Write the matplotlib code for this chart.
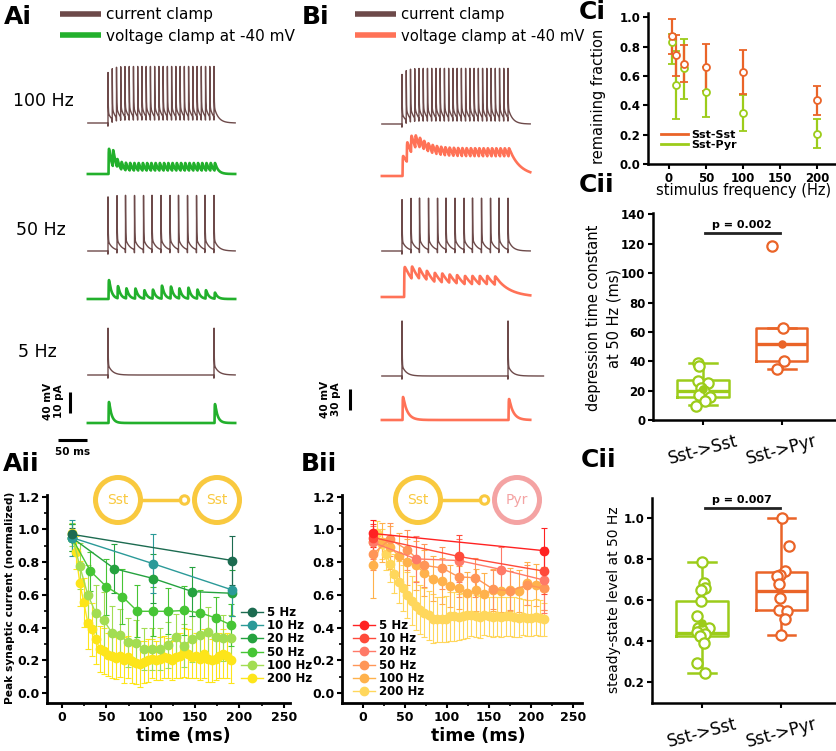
import numpy as np
import matplotlib
matplotlib.use("Agg")
import matplotlib.pyplot as plt
from matplotlib.lines import Line2D
from matplotlib.patches import Circle

plt.rcParams['font.family'] = ['DejaVu Sans']
plt.rcParams['font.weight'] = 'bold'

W, H = 837, 751

# ---------------- Ai / Bi traces ----------------
# spike / stimulus times in ms from train onset
spk_100 = [0, 8, 16, 24, 32, 40, 48, 56, 64, 72, 80, 88, 96, 104, 112, 120, 128,
           136, 144, 152, 160, 168, 176, 184, 192, 200]
spk_50 = [0, 17, 33, 50, 67, 83, 100, 117, 133, 150, 167, 183, 200]
spk_5 = [0, 200]
orange_50_times = [4, 18, 32, 46, 61, 75, 89, 103, 118, 132, 146, 160, 175]

# spike heights (mV)
spike_mv_A = {"100": 88, "50": 96, "5": 80}
spike_mv_B = {"100": 86, "50": 90, "5": 98}

# synaptic current amplitudes per event (pA)
ipsc_A_100 = [12, 8, 4, 3.8, 3.8, 3.8, 3.8, 3.8, 3.8, 3.8, 3.8, 3.8, 3.8, 3.8, 3.8,
              3.8, 3.8, 3.8, 3.8, 3.8, 3.8, 3.8, 3.8, 3.8, 3.8, 3.8]
ipsc_A_50 = [9, 5.8, 4.8, 4.8, 4, 4.3, 6.2, 5.7, 4.8, 5.2, 4.3, 4, 2.9]
ipsc_A_5 = [10, 9]
ipsc_B_100 = [30, 30, 26, 20, 16, 14, 13.5, 13.5, 13.5, 13.5, 13.5, 13.5, 13.5,
              13.5, 13.5, 13.5, 13.5, 13.5, 13.5, 13.5, 13.5, 13.5, 13.5, 13.5, 13.5, 13.5]
ipsc_B_50 = [45, 19, 16, 14, 14, 14, 13, 13, 13, 13, 13, 13, 13]
ipsc_B_5 = [34.5, 31.5]

# ---------------- Aii: Sst -> Sst ----------------
t5a = [11, 192]
v5a = [0.97, 0.81]
e5a = [0.04, 0.15]
t10a = [11, 103, 192]
v10a = [0.95, 0.79, 0.63]
e10a = [0.11, 0.18, 0.16]
t20a = [11, 59, 103, 147, 192]
v20a = [0.95, 0.76, 0.70, 0.62, 0.61]
e20a = [0.08, 0.15, 0.15, 0.15, 0.14]
t50a = [11, 32, 50, 68, 85, 103, 120, 138, 156, 173, 191]
v50a = [0.95, 0.745, 0.65, 0.59, 0.50, 0.50, 0.50, 0.505, 0.49, 0.46, 0.415]
e50a = [0.08, 0.12, 0.17, 0.17, 0.16, 0.15, 0.14, 0.15, 0.14, 0.13, 0.13]
t100a = [11, 20, 29, 38, 47, 56, 65, 74, 83, 92, 101, 110, 119, 128, 137, 146, 155,
         164, 173, 182, 191]
v100a = [0.97, 0.775, 0.60, 0.49, 0.445, 0.37, 0.355, 0.31, 0.305, 0.27, 0.27, 0.27,
         0.295, 0.345, 0.29, 0.33, 0.355, 0.375, 0.345, 0.335, 0.335]
e100a = [0.07, 0.14, 0.18, 0.17, 0.17, 0.16, 0.16, 0.15, 0.14, 0.13, 0.13, 0.13, 0.14,
         0.14, 0.13, 0.14, 0.15, 0.15, 0.14, 0.14, 0.14]
t200a = [11, 15.5, 20, 24.5, 29, 33.5, 38, 42.5, 47, 51.5, 56, 60.5, 65, 69.5, 74, 78.5,
         83, 87.5, 92, 96.5, 101, 105.5, 110, 114.5, 119, 123.5, 128, 132.5, 137, 141.5,
         146, 150.5, 155, 159.5, 164, 168.5, 173, 177.5, 182, 186.5, 191]
v200a = [0.98, 0.86, 0.67, 0.555, 0.43, 0.39, 0.33, 0.27, 0.255, 0.235, 0.225, 0.215,
         0.23, 0.20, 0.22, 0.195, 0.185, 0.18, 0.19, 0.20, 0.21, 0.20, 0.21, 0.22, 0.215,
         0.20, 0.22, 0.23, 0.25, 0.24, 0.22, 0.23, 0.21, 0.24, 0.21, 0.20, 0.21, 0.23,
         0.24, 0.23, 0.20]
e200a = [0.05, 0.10, 0.14, 0.15, 0.16, 0.16, 0.15, 0.14, 0.14, 0.13, 0.13, 0.13, 0.13,
         0.14, 0.13, 0.13, 0.13, 0.14, 0.13, 0.13, 0.12, 0.12, 0.13, 0.13, 0.12, 0.12,
         0.13, 0.14, 0.15, 0.15, 0.13, 0.14, 0.13, 0.15, 0.14, 0.13, 0.13, 0.14, 0.15,
         0.14, 0.14]

# ---------------- Bii: Sst -> Pyr ----------------
t5b = [12, 216]
v5b = [0.975, 0.87]
e5b = [0.08, 0.14]
t10b = [12, 114, 216]
v10b = [0.95, 0.835, 0.745]
e10b = [0.08, 0.13, 0.14]
t20b = [12, 63, 114, 165, 216]
v20b = [0.92, 0.82, 0.81, 0.755, 0.69]
e20b = [0.10, 0.14, 0.13, 0.14, 0.20]
t50b = [12, 32, 53, 73, 94, 114, 134, 155, 175, 196, 216]
v50b = [0.85, 0.94, 0.875, 0.78, 0.765, 0.71, 0.705, 0.635, 0.625, 0.66, 0.64]
e50b = [0.10, 0.10, 0.12, 0.13, 0.13, 0.12, 0.12, 0.12, 0.12, 0.12, 0.13]
t100b = [12, 22.2, 32.4, 42.6, 52.8, 63, 73.2, 83.4, 93.6, 103.8, 114, 124.2, 134.4,
         144.6, 154.8, 165, 175.2, 185.4, 195.6, 205.8, 216]
v100b = [0.78, 0.92, 0.89, 0.84, 0.80, 0.78, 0.735, 0.70, 0.685, 0.655, 0.645, 0.61,
         0.63, 0.605, 0.63, 0.625, 0.633, 0.625, 0.67, 0.66, 0.64]
e100b = [0.20, 0.12, 0.13, 0.14, 0.14, 0.15, 0.14, 0.14, 0.14, 0.13, 0.13, 0.13, 0.13,
         0.13, 0.13, 0.13, 0.13, 0.13, 0.13, 0.13, 0.13]
t200b = [12, 17.1, 22.2, 27.3, 32.4, 37.5, 42.6, 47.7, 52.8, 57.9, 63, 68.1, 73.2, 78.3,
         83.4, 88.5, 93.6, 98.7, 103.8, 108.9, 114, 119.1, 124.2, 129.3, 134.4, 139.5,
         144.6, 149.7, 154.8, 159.9, 165, 170.1, 175.2, 180.3, 185.4, 190.5, 195.6,
         200.7, 205.8, 210.9, 216]
v200b = [0.92, 0.98, 0.91, 0.85, 0.79, 0.73, 0.68, 0.64, 0.60, 0.565, 0.535, 0.51, 0.49,
         0.475, 0.455, 0.45, 0.45, 0.455, 0.47, 0.47, 0.465, 0.47, 0.475, 0.48, 0.47,
         0.465, 0.475, 0.47, 0.465, 0.47, 0.465, 0.47, 0.47, 0.465, 0.46, 0.465, 0.46,
         0.46, 0.465, 0.46, 0.45]
e200b = [0.06, 0.07, 0.09, 0.10, 0.11, 0.12, 0.13, 0.14, 0.14, 0.15, 0.15, 0.15, 0.15,
         0.15, 0.15, 0.14, 0.14, 0.14, 0.15, 0.15, 0.14, 0.14, 0.14, 0.13, 0.13, 0.13,
         0.12, 0.12, 0.12, 0.12, 0.12, 0.12, 0.12, 0.12, 0.12, 0.11, 0.11, 0.11, 0.11,
         0.11, 0.10]

freq_labels = ["5 Hz", "10 Hz", "20 Hz", "50 Hz", "100 Hz", "200 Hz"]

# ---------------- Ci ----------------
ci_freq = [5, 10, 20, 50, 100, 200]
ci_sst = [0.87, 0.745, 0.685, 0.66, 0.63, 0.435]
ci_sst_lo = [0.75, 0.60, 0.56, 0.50, 0.475, 0.335]
ci_sst_hi = [0.99, 0.88, 0.81, 0.82, 0.78, 0.535]
ci_pyr = [0.83, 0.54, 0.655, 0.49, 0.345, 0.205]
ci_pyr_lo = [0.68, 0.31, 0.445, 0.32, 0.225, 0.11]
ci_pyr_hi = [0.89, 0.77, 0.855, 0.66, 0.47, 0.305]

# ---------------- Cii ----------------
groups = ["Sst->Sst", "Sst->Pyr"]
tau_sst = [38.7, 36.5, 26.6, 25.0, 21.5, 20.0, 17.0, 15.5, 13.0, 9.6]
tau_sst_jit = [-0.06, -0.05, -0.06, 0.06, -0.03, 0.01, -0.05, 0.09, 0.02, -0.09]
tau_pyr = [118.5, 63, 40, 34.6]
tau_pyr_jit = [-0.13, 0.02, 0.03, -0.06]
tau_mean = [21.2, 52]
tau_box = [dict(q1=15.5, med=20, q3=27, whislo=10, whishi=39),
           dict(q1=40, med=52, q3=63, whislo=35, whishi=63)]

ss_sst = [0.785, 0.685, 0.66, 0.648, 0.597, 0.522, 0.465, 0.462, 0.452, 0.445, 0.437,
          0.425, 0.393, 0.295, 0.243]
ss_sst_jit = [0.0, 0.02, 0.03, -0.01, -0.01, -0.06, -0.05, 0.08, 0.0, -0.07, 0.04, -0.03,
              0.02, -0.06, 0.04]
ss_pyr = [1.0, 0.864, 0.744, 0.725, 0.72, 0.68, 0.61, 0.553, 0.549, 0.508, 0.43]
ss_pyr_jit = [0.01, 0.09, 0.05, -0.02, -0.06, -0.03, -0.02, -0.03, 0.07, 0.04, 0.0]
ss_mean = [0.49]
ss_box = [dict(q1=0.425, med=0.44, q3=0.597, whislo=0.243, whishi=0.785),
          dict(q1=0.55, med=0.645, q3=0.736, whislo=0.43, whishi=1.0)]

# ---------------- styles ----------------
BROWN = "#6d4a4a"
GREEN_TR = "#22b02c"
ORANGE_TR = "#ff7257"
A_COLS = ["#1c6b50", "#2b9a98", "#25a23f", "#46c535", "#a2dd52", "#fde51a"]
B_COLS = ["#ff2222", "#ff4a3a", "#ff7a68", "#ff9658", "#ffb24c", "#ffd75c"]
C_ORANGE = "#ea6428"
C_GREEN = "#9ccc1a"
GOLD = "#f9c93f"
PINK = "#f4a3a3"

fig = plt.figure(figsize=(W / 100, H / 100), dpi=100)


def ax_px(l, t, r, b):
    return fig.add_axes([l / W, 1 - b / H, (r - l) / W, (b - t) / H], facecolor="none")


ov = fig.add_axes([0, 0, 1, 1], facecolor="none")
ov.set_xlim(0, W)
ov.set_ylim(H, 0)
ov.axis("off")
ov.set_zorder(10)

# ---------------- trace synthesis ----------------
PX_MS = 0.53
MV_PX = 21 / 40


def cc_trace(t, spikes, amp, tail=20.0, tau_tail=8.0):
    v = np.zeros_like(t)
    for s in spikes:
        d = t - s
        m = d >= 0
        v[m] += amp * np.exp(-d[m] / 0.35) + tail * np.exp(-d[m] / tau_tail)
        v[(d > -0.5) & (d < 0)] -= 6
    return v


def psc_trace(t, events, amps, tau, rise=0.3):
    dk = np.arange(0, 60, 0.01)
    norm = ((1 - np.exp(-dk / rise)) * np.exp(-dk / tau)).max()
    y = np.zeros_like(t)
    for s, a in zip(events, amps):
        d = t - s
        m = d >= 0
        y[m] += a * (1 - np.exp(-d[m] / rise)) * np.exp(-d[m] / tau) / norm
    return y


def trace_axes(t0px):
    ax = fig.add_axes([0, 0, 1, 1], facecolor="none")
    ax.set_xlim((0 - t0px) / PX_MS, (W - t0px) / PX_MS)
    ax.set_ylim(-H, 0)
    ax.axis("off")
    return ax


# Ai
axA = trace_axes(108)
tA = np.arange(-38, 240, 0.05)
axA.plot(tA, -123 + MV_PX * cc_trace(tA, spk_100, spike_mv_A["100"]), color=BROWN, lw=1.0)
axA.plot(tA, -174 + 2.1 * psc_trace(tA, [s + 1 for s in spk_100], ipsc_A_100, 6), color=GREEN_TR, lw=1.9)
axA.plot(tA, -251 + MV_PX * cc_trace(tA, spk_50, spike_mv_A["50"]), color=BROWN, lw=1.0)
axA.plot(tA, -299 + 2.1 * psc_trace(tA, [s + 1 for s in spk_50], ipsc_A_50, 5), color=GREEN_TR, lw=1.9)
axA.plot(tA, -375 + MV_PX * cc_trace(tA, spk_5, spike_mv_A["5"]), color=BROWN, lw=1.0)
axA.plot(tA, -423 + 2.1 * psc_trace(tA, [s + 1 for s in spk_5], ipsc_A_5, 5), color=GREEN_TR, lw=1.9)
# scale bars
xb = (70 - 108) / PX_MS
axA.plot([xb, xb], [-413, -413 + 40 * MV_PX], color="k", lw=2.2, solid_capstyle="butt")
xh = (58 - 108) / PX_MS
axA.plot([xh, xh + 55], [-440, -440], color="k", lw=2.2, solid_capstyle="butt")

# Bi
axB = trace_axes(402)
tB = np.arange(-38, 242, 0.05)
tB5 = np.arange(-38, 267, 0.05)
axB.plot(tB, -124 + MV_PX * cc_trace(tB, spk_100, spike_mv_B["100"]), color=BROWN, lw=1.0)
axB.plot(tB, -176 + (20 / 30) * psc_trace(tB, [s + 1 for s in spk_100], ipsc_B_100, 20), color=ORANGE_TR, lw=1.9)
axB.plot(tB, -251 + MV_PX * cc_trace(tB, spk_50, spike_mv_B["50"]), color=BROWN, lw=1.0)
axB.plot(tB, -297 + (20 / 30) * psc_trace(tB, orange_50_times, ipsc_B_50, 26), color=ORANGE_TR, lw=1.9)
axB.plot(tB5, -376 + MV_PX * cc_trace(tB5, spk_5, spike_mv_B["5"]), color=BROWN, lw=1.0)
axB.plot(tB, -420 + (20 / 30) * psc_trace(tB, [s + 1 for s in spk_5], ipsc_B_5, 8), color=ORANGE_TR, lw=1.9)
xbB = (350 - 402) / PX_MS
axB.plot([xbB, xbB], [-410, -410 + 40 * MV_PX], color="k", lw=2.2, solid_capstyle="butt")

# trace legends and labels
for x0, col2, fs in [(60, GREEN_TR, 11), (355, ORANGE_TR, 10.6)]:
    ov.plot([x0, x0 + 41], [14, 14], color=BROWN, lw=4, solid_capstyle="butt")
    ov.plot([x0, x0 + 41], [35, 35], color=col2, lw=4, solid_capstyle="butt")
    ov.text(x0 + 46, 19, "current clamp", fontsize=fs, fontweight="normal", va="baseline")
    ov.text(x0 + 46, 41, "voltage clamp at -40 mV", fontsize=fs, fontweight="normal", va="baseline")

ov.text(13, 106, "100 Hz", fontsize=12.5, fontweight="normal", va="baseline")
ov.text(16, 235, "50 Hz", fontsize=12.5, fontweight="normal", va="baseline")
ov.text(18, 357, "5 Hz", fontsize=12.5, fontweight="normal", va="baseline")
ov.text(48, 401, "40 mV", fontsize=7.5, rotation=90, ha="center", va="center")
ov.text(59, 401, "10 pA", fontsize=7.5, rotation=90, ha="center", va="center")
ov.text(73, 452, "50 ms", fontsize=7.5, ha="center", va="center")
ov.text(325, 399, "40 mV", fontsize=7.5, rotation=90, ha="center", va="center")
ov.text(336, 399, "30 pA", fontsize=7.5, rotation=90, ha="center", va="center")

# panel letters
for x, y, s in [(4, 24, "Ai"), (302, 24, "Bi"), (579, 19, "Ci"), (579, 192, "Cii"),
                (3, 471, "Aii"), (301, 471, "Bii"), (581, 467, "Cii")]:
    ov.text(x, y, s, fontsize=18, va="baseline")


# ---------------- Aii / Bii ----------------
def style_axes(ax, lw=2.0, size=9.0):
    for sp in ["top", "right"]:
        ax.spines[sp].set_visible(False)
    for sp in ["left", "bottom"]:
        ax.spines[sp].set_linewidth(lw)
    ax.tick_params(width=1.5, length=3.5, labelsize=size, pad=2)
    ax.tick_params(which="minor", width=1.2, length=2.5)


def series_panel(ax, data, cols):
    for (t, v, e), c in list(zip(data, cols))[::-1]:
        ax.errorbar(t, v, yerr=e, color=c, lw=1.0, marker="o", ms=6, mec=c,
                    capsize=2.2, elinewidth=0.8, capthick=0.8)
    ax.set_ylim(-0.06, 1.21)
    ax.set_yticks([0.0, 0.2, 0.4, 0.6, 0.8, 1.0, 1.2])
    ax.set_yticklabels(["0.0", "0.2", "0.4", "0.6", "0.8", "1.0", "1.2"])
    ax.set_xticks([0, 50, 100, 150, 200, 250])
    ax.set_xticks([25, 75, 125, 175, 225], minor=True)
    ax.set_yticks([0.1, 0.3, 0.5, 0.7, 0.9, 1.1], minor=True)
    style_axes(ax)


axAii = ax_px(47, 495, 290, 703)
series_panel(axAii, [(t5a, v5a, e5a), (t10a, v10a, e10a), (t20a, v20a, e20a),
                     (t50a, v50a, e50a), (t100a, v100a, e100a), (t200a, v200a, e200a)], A_COLS)
axAii.set_xlim(-17, 257)

axBii = ax_px(342, 495, 582, 703)
series_panel(axBii, [(t5b, v5b, e5b), (t10b, v10b, e10b), (t20b, v20b, e20b),
                     (t50b, v50b, e50b), (t100b, v100b, e100b), (t200b, v200b, e200b)], B_COLS)
axBii.set_xlim(-25, 261)

for ax, cols, anchor in [(axAii, A_COLS, (241, 606)), (axBii, B_COLS, (353, 619))]:
    hs = [Line2D([], [], color=c, marker="o", ms=6, lw=1.0) for c in cols]
    ax.legend(hs, freq_labels, loc="upper left", bbox_to_anchor=anchor,
              bbox_transform=ov.transData, frameon=False, fontsize=8.5,
              handlelength=1.9, handletextpad=0.3, labelspacing=0.02,
              borderpad=0, borderaxespad=0)

ov.text(183, 741, "time (ms)", fontsize=12.5, ha="center", va="baseline")
ov.text(478, 741, "time (ms)", fontsize=12.5, ha="center", va="baseline")
ov.text(10, 598, "Peak synaptic current (normalized)", fontsize=7.7,
        rotation=90, ha="center", va="center")

# neuron diagrams
for cx, r_col, r_txt in [(0, GOLD, "Sst"), (300, PINK, "Pyr")]:
    lx = 118 + cx
    rx = 217 + cx
    ov.add_patch(Circle((lx, 500), 22.5, fill=False, ec=GOLD, lw=3.6))
    ov.add_patch(Circle((rx, 500), 22.5, fill=False, ec=r_col, lw=3.6))
    ov.plot([lx + 25, rx - 37], [500, 500], color=GOLD, lw=2.5)
    ov.add_patch(Circle((rx - 32.5, 500), 4.2, fill=False, ec=GOLD, lw=2.2))
    ov.text(lx, 500, "Sst", color=GOLD, fontsize=10, fontweight="normal", ha="center", va="center")
    ov.text(rx, 500, r_txt, color=r_col, fontsize=10, fontweight="normal", ha="center", va="center")

# ---------------- Ci ----------------
axCi = ax_px(648, 13, 837, 164)
for vals, lo, hi, c in [(ci_pyr, ci_pyr_lo, ci_pyr_hi, C_GREEN),
                        (ci_sst, ci_sst_lo, ci_sst_hi, C_ORANGE)]:
    yerr = [np.array(vals) - np.array(lo), np.array(hi) - np.array(vals)]
    axCi.errorbar(ci_freq, vals, yerr=yerr, fmt="o", color=c, mfc="white", mec=c,
                  ms=5, mew=1.3, elinewidth=1.6, capsize=2.8, capthick=1.6)
axCi.set_xlim(-28, 227)
axCi.set_ylim(0, 1.03)
axCi.set_xticks([0, 50, 100, 150, 200])
axCi.set_yticks([0.0, 0.2, 0.4, 0.6, 0.8, 1.0])
axCi.set_yticklabels(["0.0", "0.2", "0.4", "0.6", "0.8", "1.0"])
style_axes(axCi, lw=1.8, size=8.5)
hs = [Line2D([], [], color=C_ORANGE, lw=2), Line2D([], [], color=C_GREEN, lw=2)]
axCi.legend(hs, ["Sst-Sst", "Sst-Pyr"], loc="upper left", bbox_to_anchor=(661, 130),
            bbox_transform=ov.transData, frameon=False, fontsize=8,
            handlelength=2.4, handletextpad=0.3, labelspacing=0.02,
            borderpad=0, borderaxespad=0)
ov.text(599, 96, "remaining fraction", fontsize=10.5, fontweight="normal", rotation=90,
        ha="center", va="center")
ov.text(744, 195, "stimulus frequency (Hz)", fontsize=10.5, fontweight="normal",
        ha="center", va="baseline")


# ---------------- Cii ----------------
def box_panel(ax, boxes, pts, jits, means, ylim, p_y, p_txt):
    for i, (st, c) in enumerate(zip(boxes, [C_GREEN, C_ORANGE])):
        st = dict(st, fliers=[])
        kw = dict(color=c, linewidth=1.8)
        ax.bxp([st], positions=[i + 1], widths=0.65, showfliers=False,
               boxprops=kw, whiskerprops=kw, capprops=kw,
               medianprops=dict(color=c, linewidth=2.4), capwidths=0.35,
               manage_ticks=False)
    for i, (vals, jit, c) in enumerate(zip(pts, jits, [C_GREEN, C_ORANGE])):
        ax.scatter(np.array(jit) + i + 1, vals, s=55, facecolor="white", edgecolor=c,
                   linewidth=1.6, zorder=4)
    for i, m in enumerate(means):
        ax.scatter([i + 1], [m], s=26, color=[C_GREEN, C_ORANGE][i], zorder=5)
    ax.set_xlim(0.367, 2.70)
    ax.set_ylim(*ylim)
    ax.plot([1.03, 1.98], [p_y, p_y], color="#222222", lw=2)
    ax.text(1.5, p_y + (ylim[1] - ylim[0]) * 0.015, p_txt, ha="center", va="bottom",
            fontsize=8)
    ax.set_xticks([1, 2])
    ax.set_xticklabels(groups, rotation=15, fontsize=12, fontweight="normal")
    style_axes(ax, lw=1.8, size=8.5)
    ax.tick_params(axis="x", labelsize=12, pad=5)


axT = ax_px(653, 213, 837, 420)
box_panel(axT, tau_box, [tau_sst, tau_pyr], [tau_sst_jit, tau_pyr_jit], tau_mean,
          (0, 141), 127.5, "p = 0.002")
axT.set_yticks([0, 20, 40, 60, 80, 100, 120, 140])
ov.text(594, 318, "depression time constant", fontsize=10.5, fontweight="normal", rotation=90,
        ha="center", va="center")
ov.text(614, 318, "at 50 Hz (ms)", fontsize=10.5, fontweight="normal", rotation=90,
        ha="center", va="center")

axS = ax_px(652, 498, 837, 703)
box_panel(axS, ss_box, [ss_sst, ss_pyr], [ss_sst_jit, ss_pyr_jit], ss_mean,
          (0.097, 1.10), 1.05, "p = 0.007")
axS.set_yticks([0.2, 0.4, 0.6, 0.8, 1.0])
axS.set_yticklabels(["0.2", "0.4", "0.6", "0.8", "1.0"])
ov.text(614, 600, "steady-state level at 50 Hz", fontsize=10, fontweight="normal", rotation=90,
        ha="center", va="center")

fig.savefig("out.png", dpi=100)
